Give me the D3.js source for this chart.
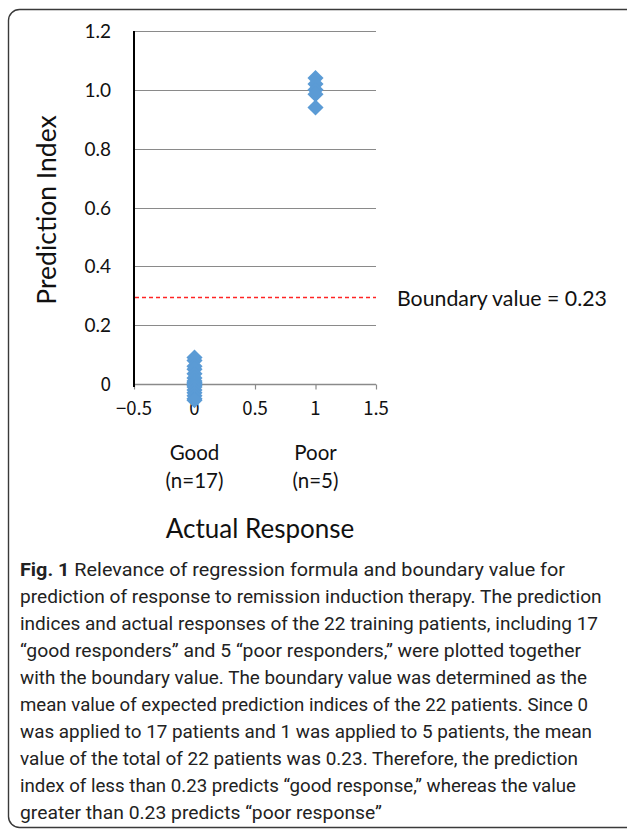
<!DOCTYPE html>
<html>
<head>
<meta charset="utf-8">
<script src="https://cdn.jsdelivr.net/npm/d3@7"></script>
<style>
  html, body { margin: 0; padding: 0; background: #fff; }
  svg { display: block; }
</style>
</head>
<body>
<svg id="chart" width="627" height="829"></svg>
<script>
// ---- data ----
const xTicks = [-0.5, 0, 0.5, 1, 1.5];
const yTicks = [0, 0.2, 0.4, 0.6, 0.8, 1.0, 1.2];
const goodValues = [0.09, 0.08, 0.06, 0.05, 0.035, 0.02, 0.01, 0.005, 0, 0, -0.005, -0.01, -0.02, -0.03, -0.04, -0.05, -0.055];
const poorValues = [1.04, 1.02, 1.0, 0.985, 0.94];
const groups = [
  { x: 0, label: "Good", n: "(n=17)", values: goodValues },
  { x: 1, label: "Poor", n: "(n=5)", values: poorValues }
];
const boundaryLineValue = 0.295;
const boundaryLabel = "Boundary value = 0.23";
const yTitle = "Prediction Index";
const xTitle = "Actual Response";
const captionLines = [
  ["Fig. 1", " Relevance of regression formula and boundary value for"],
  ["", "prediction of response to remission induction therapy. The prediction"],
  ["", "indices and actual responses of the 22 training patients, including 17"],
  ["", "\u201Cgood responders\u201D and 5 \u201Cpoor responders,\u201D were plotted together"],
  ["", "with the boundary value. The boundary value was determined as the"],
  ["", "mean value of expected prediction indices of the 22 patients. Since 0"],
  ["", "was applied to 17 patients and 1 was applied to 5 patients, the mean"],
  ["", "value of the total of 22 patients was 0.23. Therefore, the prediction"],
  ["", "index of less than 0.23 predicts \u201Cgood response,\u201D whereas the value"],
  ["", "greater than 0.23 predicts \u201Cpoor response\u201D"]
];
const captionWidths = [545, 582, 578, 561, 567, 568, 572, 558, 556, 362];

// ---- drawing ----
const svg = d3.select("#chart");
const chartFont = "Lato, 'Open Sans', sans-serif";
const cjkFont = "'Noto Sans CJK JP', sans-serif";

// border frame
svg.append("rect")
  .attr("x", 8.5).attr("y", 9.5)
  .attr("width", 660).attr("height", 818)
  .attr("rx", 11).attr("ry", 11)
  .attr("fill", "none").attr("stroke", "#3a3a3a").attr("stroke-width", 1.4);

const x = d3.scaleLinear().domain([-0.5, 1.5]).range([134, 376]);
const y = d3.scaleLinear().domain([0, 1.2]).range([384, 31]);

// gridlines
svg.append("g").selectAll("line")
  .data(yTicks.filter(d => d > 0))
  .join("line")
  .attr("x1", x(-0.5)).attr("x2", x(1.5))
  .attr("y1", d => Math.round(y(d)) + 0.5).attr("y2", d => Math.round(y(d)) + 0.5)
  .attr("stroke", "#8a8a8a").attr("stroke-width", 1);

// x axis (at y = 0)
const xAxis = d3.axisBottom(x).tickValues(xTicks).tickSize(5).tickFormat(() => "");
const gx = svg.append("g").attr("transform", `translate(0,${Math.round(y(0)) + 0.5})`).call(xAxis);
gx.select(".domain").attr("stroke", "#8a8a8a").attr("stroke-width", 1.3).attr("d", `M${x(-0.5)},0H${x(1.5)}`);
gx.selectAll(".tick line").attr("stroke", "#8a8a8a").attr("stroke-width", 1.2);

// x tick labels
svg.append("g").selectAll("text")
  .data(xTicks)
  .join("text")
  .attr("x", d => x(d)).attr("y", 415)
  .attr("text-anchor", "middle")
  .attr("font-family", cjkFont).attr("font-size", 18.5).attr("fill", "#111")
  .text(d => d < 0 ? "\u2212" + Math.abs(d) : String(d));

// y axis line
svg.append("line")
  .attr("x1", x(-0.5)).attr("x2", x(-0.5))
  .attr("y1", y(1.2)).attr("y2", y(0) + 3)
  .attr("stroke", "#000").attr("stroke-width", 2);

// y tick labels
svg.append("g").selectAll("text")
  .data(yTicks)
  .join("text")
  .attr("x", 111).attr("y", d => y(d) + 7)
  .attr("text-anchor", "end")
  .attr("font-family", d => d === 0 ? cjkFont : chartFont)
  .attr("font-size", 19).attr("fill", "#111")
  .text(d => d === 0 ? "0" : d3.format(".1f")(d));

// boundary line
const by = Math.round(y(boundaryLineValue)) + 0.5;
svg.append("line")
  .attr("x1", x(-0.5) + 1).attr("x2", x(1.5))
  .attr("y1", by).attr("y2", by)
  .attr("stroke", "#ff2424").attr("stroke-width", 1.5)
  .attr("stroke-dasharray", "4,3");

svg.append("text")
  .attr("x", 397).attr("y", by + 8.5)
  .attr("font-family", chartFont).attr("font-size", 21.3).attr("fill", "#111")
  .text(boundaryLabel);

// points
const diamond = d3.symbol().type(d3.symbolSquare).size(130);
const pts = [];
groups.forEach(g => g.values.forEach(v => pts.push({ x: g.x, v })));
svg.append("g").selectAll("path")
  .data(pts)
  .join("path")
  .attr("d", diamond)
  .attr("transform", d => `translate(${x(d.x)},${y(d.v)}) rotate(45)`)
  .attr("fill", "#5b9bd5");

// category labels
const cat = svg.append("g").selectAll("g").data(groups).join("g");
cat.append("text")
  .attr("x", d => x(d.x)).attr("y", 460)
  .attr("text-anchor", "middle")
  .attr("font-family", chartFont).attr("font-size", 20.5).attr("fill", "#111")
  .text(d => d.label);
cat.append("text")
  .attr("x", d => x(d.x)).attr("y", 488)
  .attr("text-anchor", "middle")
  .attr("font-family", chartFont).attr("font-size", 20.5).attr("fill", "#111")
  .text(d => d.n);

// axis titles
svg.append("text")
  .attr("x", 260).attr("y", 538)
  .attr("text-anchor", "middle")
  .attr("font-family", chartFont).attr("font-size", 26).attr("fill", "#111")
  .text(xTitle);

svg.append("text")
  .attr("transform", "translate(56,210) rotate(-90)")
  .attr("text-anchor", "middle")
  .attr("font-family", chartFont).attr("font-size", 26.5).attr("fill", "#111")
  .text(yTitle);

// caption: font size chosen so the widest line fits its measured width naturally
const capFont = "Roboto, 'Noto Sans', sans-serif";
const probe = svg.append("text").attr("font-family", capFont).attr("font-size", 20).text(captionLines[1][1]);
const natural = probe.node().getComputedTextLength();
probe.remove();
const capSize = Math.max(17, Math.min(20.5, 20 * captionWidths[1] / natural));

const cap = svg.append("g");
captionLines.forEach((ln, i) => {
  const t = cap.append("text")
    .attr("x", 20).attr("y", 576 + 27 * i)
    .attr("font-family", capFont)
    .attr("font-size", capSize).attr("fill", "#222");
  if (ln[0]) t.append("tspan").attr("font-weight", "bold").text(ln[0]);
  t.append("tspan").text(ln[1]);
  const w = t.node().getComputedTextLength();
  if (Math.abs(w - captionWidths[i]) > 1) {
    t.attr("textLength", captionWidths[i]).attr("lengthAdjust", "spacingAndGlyphs");
  }
});
</script>
</body>
</html>
